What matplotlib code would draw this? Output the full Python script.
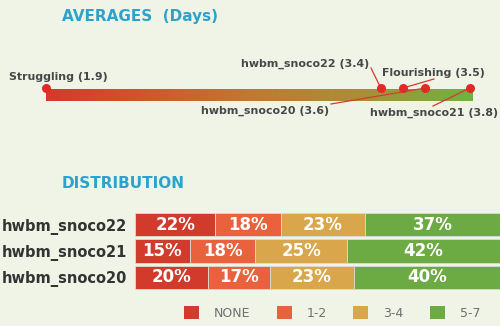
#!/usr/bin/env python3
import numpy as np
import matplotlib
matplotlib.use('Agg')
import matplotlib.pyplot as plt
from matplotlib.colors import LinearSegmentedColormap
from matplotlib.patches import Patch

# 平均天数
avg_names = ['Struggling', 'hwbm_snoco22', 'Flourishing', 'hwbm_snoco20', 'hwbm_snoco21']
avg_values = [1.9, 3.4, 3.5, 3.6, 3.8]

# 分布
groups = ['hwbm_snoco22', 'hwbm_snoco21', 'hwbm_snoco20']
bins = ['NONE', '1-2', '3-4', '5-7']
dist = {
    'NONE': [22, 15, 20],
    '1-2': [18, 18, 17],
    '3-4': [23, 25, 23],
    '5-7': [37, 42, 40],
}

bg = '#eff4e7'
title_color = '#2ba3cc'
bin_colors = ['#d23b2b', '#e9623d', '#d9a64c', '#6cab43']

plt.rcParams['font.family'] = ['DejaVu Sans']
fig = plt.figure(figsize=(5, 3.26), dpi=100, facecolor=bg)
W, H = 500, 326

# 标题
fig.text(62 / W, 1 - 16 / H, 'AVERAGES  (Days)', color=title_color,
         fontsize=11, fontweight='bold', va='center', ha='left')
fig.text(62 / W, 1 - 184 / H, 'DISTRIBUTION', color=title_color,
         fontsize=11, fontweight='bold', va='center', ha='left')

# ---- 平均值渐变条 ----
ax1 = fig.add_axes([0, 0, 1, 1])
ax1.set_facecolor('none')
lo, hi = min(avg_values), max(avg_values)
ppu = (470 - 46) / (hi - lo)
xmin = lo - 46 / ppu
xmax = lo + (W - 46) / ppu
ax1.set_xlim(xmin, xmax)
ax1.set_ylim(H, 0)
ax1.axis('off')

def px(x):
    return xmin + x / ppu

cmap = LinearSegmentedColormap.from_list(
    'avg', ['#d8382a', '#cc5a2e', '#bd7c35', '#a98e3a', '#6cb443'])
grad = np.linspace(0, 1, 256).reshape(1, -1)
ax1.imshow(grad, cmap=cmap, aspect='auto', extent=(lo, px(473), 101, 89),
           zorder=1, interpolation='bicubic')

ax1.plot(avg_values, [88] * len(avg_values), 'o', color='#df2a26',
         markersize=6.5, zorder=4, markeredgewidth=0)

label_pos = {
    'Struggling': (9, 77, 'left', False),
    'hwbm_snoco22': (369, 64, 'right', True),
    'Flourishing': (382, 73, 'left', True),
    'hwbm_snoco20': (329, 111, 'right', True),
    'hwbm_snoco21': (370, 113, 'left', True),
}
line_start = {
    'hwbm_snoco22': (371, 68),
    'Flourishing': (434, 79),
    'hwbm_snoco20': (331, 104),
    'hwbm_snoco21': (433, 106),
}
for name, val in zip(avg_names, avg_values):
    tx, ty, ha, leader = label_pos[name]
    ax1.text(px(tx), ty, f'{name} ({val})', ha=ha, va='center',
             fontsize=7.9, fontweight='bold', color='#474747', zorder=5)
    if leader:
        sx, sy = line_start[name]
        ax1.plot([px(sx), val], [sy, 88], color='#d53a30', lw=0.9, zorder=3)

# ---- 分布堆叠条 ----
ax2 = fig.add_axes([135 / W, 1 - 290.5 / H, 365 / W, 79 / H])
ax2.set_facecolor('none')
y = np.arange(len(groups))
left = np.zeros(len(groups))
for b, c in zip(bins, bin_colors):
    vals = np.array(dist[b])
    ax2.barh(y, vals, left=left, height=0.875, color=c,
             edgecolor='#d9dcd4', linewidth=0.6)
    for yi, (l, v) in enumerate(zip(left, vals)):
        ax2.text(l + v / 2, yi, f'{v}%', ha='center', va='center',
                 color='white', fontsize=12, fontweight='bold')
    left += vals

ax2.set_xlim(0, 100)
ax2.set_ylim(len(groups) - 0.5, -0.5)
ax2.set_yticks(y)
ax2.set_yticklabels(groups, fontsize=10.5, fontweight='bold', color='#333333')
ax2.tick_params(axis='y', length=0, pad=6)
ax2.set_xticks([])
for s in ax2.spines.values():
    s.set_visible(False)

# 图例
handles = [Patch(facecolor=c, edgecolor='none', label=b)
           for b, c in zip(bins, bin_colors)]
fig.legend(handles=handles, loc='center left',
           bbox_to_anchor=(184 / W, 1 - 313 / H), ncol=4, frameon=False,
           fontsize=9, labelcolor='#6f6f6f', handlelength=1.2,
           handleheight=1.2, handletextpad=1.2, columnspacing=2.1,
           borderpad=0, borderaxespad=0)

fig.savefig('out.png', dpi=100, facecolor=bg)
